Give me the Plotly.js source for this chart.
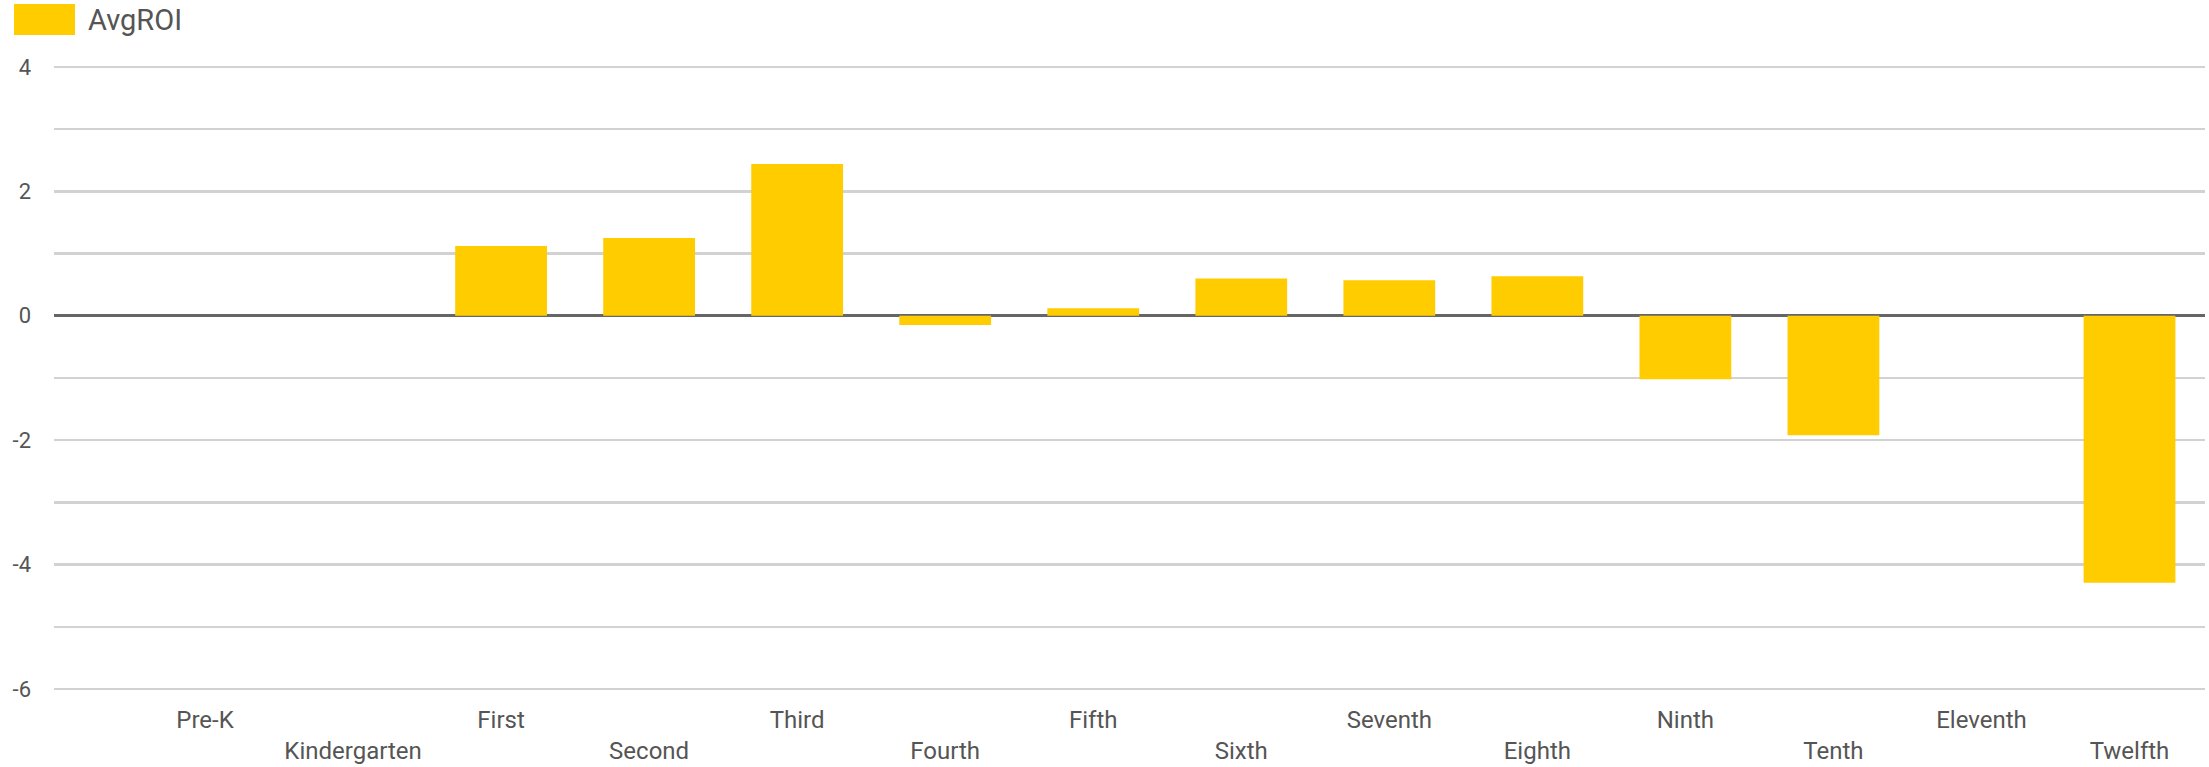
<!DOCTYPE html>
<html>
<head>
<meta charset="utf-8">
<script src="https://cdn.plot.ly/plotly-3.0.1.min.js"></script>
<style>
  html, body { margin: 0; padding: 0; background: #fff; }
  #chart { width: 2209px; height: 767px; }
</style>
</head>
<body>
<div id="chart"></div>
<script>
const seriesName = 'AvgROI';
const grades = ['Pre-K', 'Kindergarten', 'First', 'Second', 'Third', 'Fourth', 'Fifth',
                'Sixth', 'Seventh', 'Eighth', 'Ninth', 'Tenth', 'Eleventh', 'Twelfth'];
const avgROI = [null, null, 1.12, 1.25, 2.44, -0.15, 0.12, 0.60, 0.57, 0.635, -1.02, -1.92, null, -4.29];
const yTickVals = [-6, -4, -2, 0, 2, 4];
const yTickText = ['-6', '-4', '-2', '0', '2', '4'];

const idx = grades.map((_, i) => i);
// staggered category labels: every other label on a second row
const xTickText = grades.map((g, i) => (i % 2 === 1 ? '<br>' + g : g));

const trace = {
  type: 'bar',
  x: idx,
  y: avgROI,
  name: seriesName,
  marker: { color: '#FFCC00', line: { width: 0 } },
  hoverinfo: 'y',
  showlegend: false
};

const layout = {
  width: 2209,
  height: 767,
  margin: { l: 54, r: 4, t: 65, b: 76, pad: 0 },
  paper_bgcolor: '#ffffff',
  plot_bgcolor: '#ffffff',
  font: { family: 'Roboto, Arial, sans-serif', color: '#555555', size: 20 },
  bargap: 0.38,
  xaxis: {
    range: [-1.02, 13.51],
    tickmode: 'array',
    tickvals: idx,
    ticktext: xTickText,
    tickangle: 0,
    showgrid: false,
    zeroline: false,
    showline: false,
    ticks: '',
    ticklabelstandoff: 12,
    tickfont: { size: 24, color: '#555555', family: 'Roboto, Arial, sans-serif' }
  },
  yaxis: {
    range: [-6.03, 4.03],
    tickmode: 'array',
    tickvals: yTickVals,
    ticktext: yTickText,
    showgrid: true,
    gridcolor: '#d2d2d2',
    gridwidth: 2.5,
    minor: { dtick: 1, showgrid: true, gridcolor: '#d2d2d2', gridwidth: 2.5 },
    zeroline: true,
    zerolinecolor: '#666666',
    zerolinewidth: 3,
    showline: false,
    ticks: '',
    ticklabelstandoff: 22,
    tickfont: { size: 22, color: '#555555', family: 'Roboto, Arial, sans-serif' }
  },
  shapes: [{
    type: 'rect',
    xref: 'paper', yref: 'paper',
    xsizemode: 'pixel', ysizemode: 'pixel',
    xanchor: 0, yanchor: 1,
    x0: -40, x1: 21, y0: 30, y1: 61,
    fillcolor: '#FFCC00',
    line: { width: 0 }
  }],
  annotations: [{
    xref: 'paper', yref: 'paper',
    x: 0, y: 1,
    xanchor: 'left', yanchor: 'middle',
    xshift: 32, yshift: 45,
    text: seriesName,
    showarrow: false,
    font: { size: 29, color: '#555555', family: 'Roboto, Arial, sans-serif' }
  }]
};

Plotly.newPlot('chart', [trace], layout, { displayModeBar: false, staticPlot: true });
</script>
</body>
</html>
